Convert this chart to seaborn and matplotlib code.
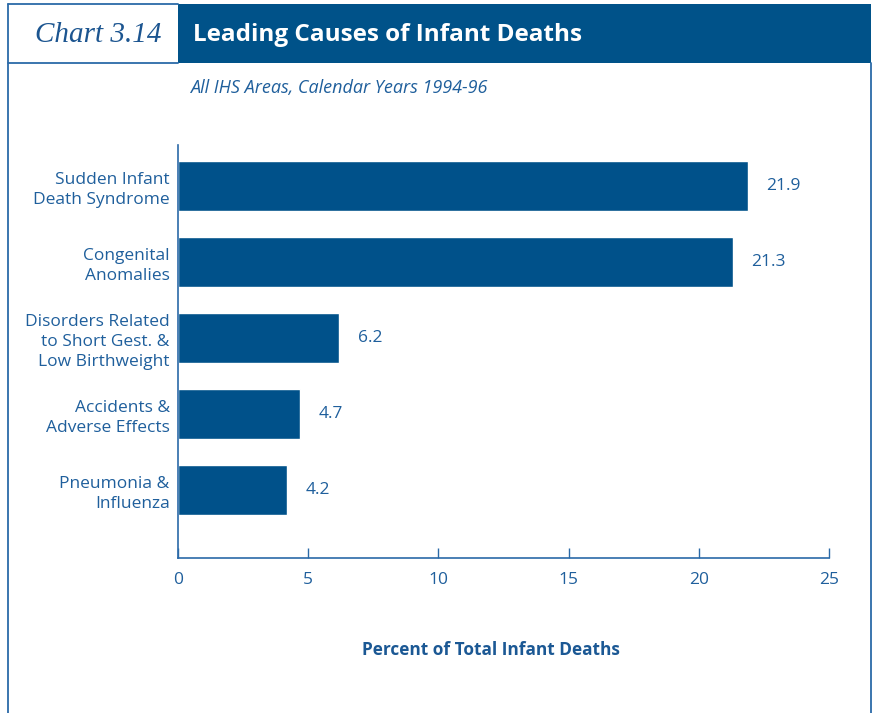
import matplotlib
matplotlib.use("Agg")
import matplotlib.pyplot as plt
from matplotlib.lines import Line2D
from matplotlib.patches import Rectangle
import seaborn as sns
import pandas as pd

# Data
causes = [
    "Sudden Infant\nDeath Syndrome",
    "Congenital\nAnomalies",
    "Disorders Related\nto Short Gest. &\nLow Birthweight",
    "Accidents &\nAdverse Effects",
    "Pneumonia &\nInfluenza",
]
percents = [21.9, 21.3, 6.2, 4.7, 4.2]
x_ticks = [0, 5, 10, 15, 20, 25]

title = "Leading Causes of Infant Deaths"
chart_no = "Chart 3.14"
subtitle = "All IHS Areas, Calendar Years 1994-96"
x_label = "Percent of Total Infant Deaths"

BAR = "#00518a"
BAND = "#005289"
TEXT = "#1f5f9c"
LINE = "#2b6aa8"

sns.set_style("white")
plt.rcParams["font.family"] = ["Open Sans", "DejaVu Sans"]

W, H = 874, 713
fig = plt.figure(figsize=(W / 100, H / 100), dpi=100)

def fx(px):
    return px / W

def fy(py):
    return 1 - py / H

ax = fig.add_axes([fx(178), fy(558), fx(829) - fx(178), fy(145) - fy(558)])

df = pd.DataFrame({"cause": causes, "pct": percents})
sns.barplot(data=df, x="pct", y="cause", orient="h", color=BAR,
            saturation=1, width=0.66, ax=ax)

ax.set_xlim(0, 25)
ax.set_ylim(4.895, -0.54)
ax.set_xticks(x_ticks)
ax.set_xticklabels([str(t) for t in x_ticks])
ax.set_xlabel("")
ax.set_ylabel("")

for s in ["top", "right"]:
    ax.spines[s].set_visible(False)
for s in ["left", "bottom"]:
    ax.spines[s].set_color(LINE)
    ax.spines[s].set_linewidth(1.2)

ax.tick_params(axis="x", bottom=True, direction="in", length=7, width=1.0,
               color=LINE, pad=10, labelsize=12.5, labelcolor=TEXT)
ax.tick_params(axis="y", left=False, length=0, pad=6, labelsize=12.5,
               labelcolor=TEXT)
for lbl in ax.get_yticklabels():
    lbl.set_linespacing(1.35)

for i, v in enumerate(percents):
    ax.annotate(f"{v}", xy=(v, i), xytext=(13, 0), textcoords="offset points",
                ha="left", va="center", fontsize=12.5, color=TEXT)

# Outer frame and header
fig.add_artist(Rectangle((fx(178), fy(63)), fx(871) - fx(178), fy(4) - fy(63),
                         transform=fig.transFigure, facecolor=BAND,
                         edgecolor="none", zorder=1))
frame_kw = dict(transform=fig.transFigure, color=LINE, linewidth=1.3)
fig.add_artist(Line2D([fx(8), fx(8)], [fy(4), 0], **frame_kw))
fig.add_artist(Line2D([fx(871), fx(871)], [fy(63), 0], **frame_kw))
fig.add_artist(Line2D([fx(8), fx(178)], [fy(4), fy(4)], **frame_kw))
fig.add_artist(Line2D([fx(8), fx(178)], [fy(63), fy(63)], **frame_kw))

fig.text(fx(35), fy(35), chart_no, family=["Liberation Serif"], style="italic",
         fontsize=21, color="#1c5590", ha="left", va="center")
fig.text(fx(193), fy(35), title, fontsize=17.5, fontweight="bold",
         color="white", ha="left", va="center")
fig.text(fx(190), fy(88), subtitle, fontsize=13, style="italic",
         color=TEXT, ha="left", va="center")
fig.text(fx(491), fy(650), x_label, fontsize=12.4, fontweight="bold",
         color="#1b5894", ha="center", va="center")

fig.savefig("out.png", dpi=100, facecolor="white")
